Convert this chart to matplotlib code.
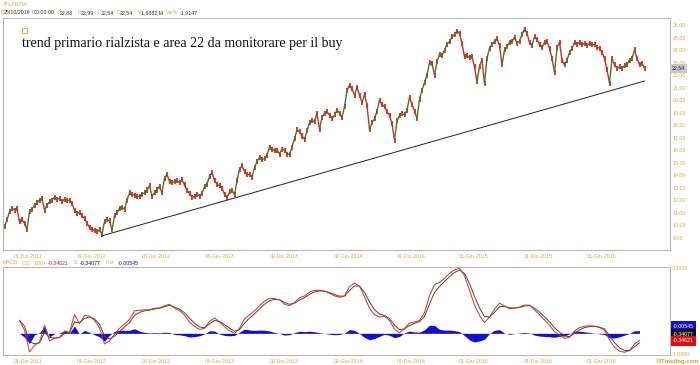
import numpy as np
import matplotlib
matplotlib.use("Agg")
import matplotlib.pyplot as plt
from matplotlib.collections import LineCollection

W, H = 700, 365

SYMBOL = "ATLANTIA"
NOTE = "trend primario rialzista e area 22 da monitorare per il buy"

# weekly closes, autumn 2011 .. 25/10/2016
closes = [
    9.9, 10.44, 11.1, 11.37, 11.23, 11.37, 10.3, 10.44, 10.17, 9.7,
    11.1, 11.3, 11.63, 11.82, 12.03, 12.17, 11.23, 11.63, 11.9, 12.03,
    12.25, 12.1, 12.17, 11.9, 12.1, 12.0, 12.03, 11.77, 11.23, 10.97,
    11.03, 10.76, 10.57, 10.17, 9.85, 9.7, 9.6, 9.5, 9.64, 9.3,
    10.3, 10.44, 10.4, 9.64, 10.76, 11.03, 11.37, 11.45, 11.3, 12.03,
    12.6, 12.5, 12.43, 12.3, 12.35, 12.5, 12.6, 12.83, 13.15, 12.35,
    12.6, 12.83, 13.1, 12.6, 13.77, 14.1, 13.5, 13.42, 13.5, 13.57,
    13.42, 13.63, 13.23, 12.8, 12.57, 12.25, 12.3, 12.5, 12.35, 12.57,
    13.1, 13.3, 13.9, 14.2, 13.6, 13.3, 13.15, 12.97, 12.5, 12.2,
    12.7, 12.78, 12.47, 13.58, 14.48, 14.75, 14.29, 14.1, 14.03, 13.85,
    14.63, 15.09, 15.44, 15.28, 15.33, 15.62, 16.24, 16.08, 15.97, 16.02,
    15.7, 16.08, 16.02, 15.7, 15.68, 16.24, 16.95, 17.62, 17.48, 17.14,
    16.88, 17.57, 18.2, 18.36, 18.28, 18.95, 17.68, 18.63, 18.95, 19.08,
    18.8, 18.5, 18.82, 19.21, 18.95, 18.6, 19.48, 20.8, 21.21, 20.9,
    20.41, 21.0, 20.41, 19.82, 20.46, 19.61, 17.62, 18.22, 18.5, 19.13,
    20.0, 19.67, 19.48, 19.08, 18.77, 18.15, 16.82, 18.35, 18.77, 18.92,
    18.82, 19.21, 20.2, 19.67, 19.13, 18.55, 20.08, 20.8, 21.4, 22.0,
    23.0, 22.95, 22.0, 23.07, 23.66, 23.6, 24.0, 24.46, 24.67, 25.07,
    25.25, 25.52, 25.33, 24.54, 23.47, 23.55, 23.4, 23.47, 22.67, 21.48,
    22.67, 23.2, 21.35, 23.34, 24.14, 24.41, 24.72, 24.94, 24.36, 22.81,
    24.01, 24.28, 24.62, 24.72, 25.0, 24.54, 24.72, 25.25, 25.68, 25.33,
    24.62, 24.36, 25.07, 24.81, 24.46, 24.2, 24.62, 24.67, 24.14, 23.34,
    22.22, 24.2, 24.62, 23.2, 22.81, 23.2, 23.82, 24.14, 24.62, 24.46,
    24.62, 24.41, 24.54, 24.36, 24.54, 24.41, 24.46, 24.22, 24.14, 23.82,
    23.34, 22.41, 21.35, 23.34, 22.81, 22.54, 22.67, 22.54, 22.76, 22.86,
    23.2, 23.34, 24.01, 23.34, 22.81, 22.94, 22.54,
]
last_close = 22.54

# MACD (32, 200) line, one value every two weeks from week 6
macd = [
    0.65, 0.16, -0.93, -0.6, -0.44, 0.4, -0.38, -0.25, -0.2, 0.12,
    0.05, 0.95, 0.49, 0.9, 0.87, 0.65, 0.28, -0.54, -0.38, -0.05,
    0.25, 0.47, 0.7, 1.13, 1.16, 1.18, 1.19, 1.26, 1.28, 1.39,
    1.46, 1.26, 1.14, 0.92, 0.57, 0.34, 0.2, 0.25, 0.6, 0.77,
    0.57, 0.34, 0.13, 0.0, 0.25, 0.72, 0.93, 1.13, 1.39, 1.62,
    1.76, 1.75, 1.68, 1.47, 1.39, 1.55, 1.78, 1.88, 2.07, 2.16,
    2.16, 2.12, 2.01, 1.88, 1.81, 1.88, 2.34, 2.53, 2.37, 1.85,
    1.26, 0.93, 0.82, 0.85, 0.65, 0.2, 0.03, 0.25, 0.51, 0.57,
    0.65, 1.03, 1.88, 2.45, 2.56, 2.76, 3.01, 3.19, 3.27, 2.89,
    2.17, 1.42, 0.9, 0.54, 0.82, 1.21, 1.52, 1.37, 1.24, 1.26,
    1.32, 1.42, 1.42, 1.18, 0.93, 0.67, 0.41, 0.08, -0.08, -0.25,
    -0.2, 0.12, 0.28, 0.36, 0.38, 0.36, 0.29, 0.16, -0.33, -0.7,
    -0.9, -0.95, -0.87, -0.54, -0.35,
]
macd_first_week = 6
macd_step = 2
macd_last, signal_last, hist_last = -0.34621, -0.34077, -0.00545

# hand-drawn trend line: (week, price) at both ends
trend_weeks = [38.8, 256.0]
trend_prices = [9.16, 21.53]

date_ticks = [9.6, 34.8, 60.8, 86.0, 112.0, 137.6, 162.8, 187.6, 213.6, 238.8]
date_labels = ["01-Dic-2011", "01-Giu-2012", "03-Dic-2012", "03-Giu-2013",
               "02-Dic-2013", "02-Giu-2014", "01-Dic-2014", "01-Giu-2015",
               "01-Dic-2015", "01-Giu-2016"]
price_ticks = list(range(9, 27))

ORANGE = "#dca640"
UP, DOWN = "#3d7a2a", "#cc3020"
FRAME = "#b8b8b8"
SANS = "Liberation Sans"


def fx(x):
    return x / W


def fy(y):
    return 1 - y / H


def frame(ax):
    for s in ax.spines.values():
        s.set_color(FRAME)
        s.set_linewidth(0.8)


fig = plt.figure(figsize=(W / 100, H / 100), dpi=100)
xlim = (-0.6, 266.2)

# ---- price panel
ax = fig.add_axes([fx(3), fy(250), fx(667), 232 / H])
c = np.asarray(closes)
wk = np.arange(len(c))
segs = [[(wk[i - 1], c[i - 1]), (wk[i], c[i])] for i in range(1, len(c))]
cols = [UP if c[i] >= c[i - 1] else DOWN for i in range(1, len(c))]
ax.vlines(wk, c - 0.2, c + 0.2, colors=DOWN, linewidth=1.3)
ax.add_collection(LineCollection(segs, colors=cols, linewidths=1.0))
ax.plot(trend_weeks, trend_prices, color="#222222", lw=0.7)
ax.set_xlim(*xlim)
ax.set_ylim(8.04, 26.56)
ax.yaxis.tick_right()
ax.set_yticks(price_ticks)
ax.set_yticklabels([f"{p:.2f}" for p in price_ticks])
ax.set_xticks(date_ticks)
ax.set_xticklabels(date_labels)
ax.tick_params(length=0, labelsize=3.8, labelcolor=ORANGE, pad=2)
ax.tick_params(axis="x", pad=3)
for t in ax.get_xticklabels() + ax.get_yticklabels():
    t.set_fontfamily(SANS)
frame(ax)

ax.text(1.0 + 2 / 667, last_close, f"{last_close:.2f}", transform=ax.get_yaxis_transform(),
        fontsize=3.8, family=SANS, color="#222222", va="center", ha="left",
        bbox=dict(boxstyle="square,pad=0.35", fc="#c8c8c8", ec="none"))

# ---- MACD panel: signal is a short EMA of the MACD line, hist the gap
ax2 = fig.add_axes([fx(3), fy(355), fx(667), 88 / H])
m = np.asarray(macd)
mw = macd_first_week + macd_step * np.arange(len(m))
sig = np.empty_like(m)
sig[0] = m[0]
for k in range(1, len(m)):
    sig[k] = sig[k - 1] + 0.6 * (m[k] - sig[k - 1])
hist = m - sig
ax2.fill_between(mw, 0, hist, color="#1010d0", lw=0)
ax2.plot(mw, sig, color="#6a3a30", lw=0.7)
ax2.plot(mw, m, color="#c0392b", lw=0.7)
ax2.set_xlim(*xlim)
ax2.set_ylim(-1.088, 3.3326)
ax2.set_yticks([])
ax2.set_xticks(date_ticks)
ax2.set_xticklabels(date_labels)
ax2.tick_params(length=0, labelsize=3.8, labelcolor=ORANGE, pad=3)
for t in ax2.get_xticklabels():
    t.set_fontfamily(SANS)
frame(ax2)

# ---- header / annotations
kw = dict(fontsize=3.8, family=SANS, va="center", ha="left")
fig.text(fx(3), fy(4), SYMBOL, color=ORANGE, **kw)
header = [("D", 1, ORANGE), ("25/10/2016", 4, "#333333"), ("T", 31, ORANGE),
          ("00:00:00", 34, "#333333"), ("O", 57, ORANGE), ("22,88", 60, "#333333"),
          ("H", 78, ORANGE), ("22,99", 81, "#333333"), ("L", 98, ORANGE),
          ("22,54", 101, "#333333"), ("C", 117, ORANGE), ("22,54", 120, "#333333"),
          ("V", 138, ORANGE), ("1,6882 M", 141, "#333333"), ("Var%", 166, ORANGE),
          ("-1,9147", 180, "#333333")]
for s, x, col in header:
    fig.text(fx(x), fy(13), s, color=col, **kw)

legend = [("MACD", 3, ORANGE), ("(32 , 200)", 22, ORANGE),
          (f"{macd_last:.5f}".replace(".", ","), 48, "#cc2020"), ("S", 74, ORANGE),
          (f"{signal_last:.5f}".replace(".", ","), 80, "#111111"), ("hist", 106, ORANGE),
          (f"{hist_last:.5f}".replace(".", ","), 118, "#1010c0")]
for s, x, col in legend:
    fig.text(fx(x), fy(263), s, color=col, **kw)

fig.text(fx(672), fy(268), "3.3326", color=ORANGE, **kw)
fig.text(fx(672), fy(355), "-1.0880", color=ORANGE, **kw)
tags = [(hist_last, "#1010d0", 326), (signal_last, "#111111", 334), (macd_last, "#dd1010", 341)]
for v, bg, y in tags:
    fig.text(fx(673), fy(y), f"{v:.5f}", color="white", fontsize=3.8, family=SANS,
             va="center", ha="left",
             bbox=dict(boxstyle="square,pad=0.4", fc=bg, ec="none"))
fig.text(fx(699), fy(361), "\u00a9ITtrading.com", color="#e09a20", fontsize=4.2,
         family=SANS, weight="bold", va="center", ha="right")

fig.text(fx(22), fy(44), NOTE, fontsize=10.1, family="Liberation Serif",
         color="#111111", va="center", ha="left")
fig.patches.append(plt.Rectangle((fx(22), fy(33)), 5 / W, 5 / H, transform=fig.transFigure,
                                 fill=False, ec="#e0a040", lw=0.6))

fig.savefig("out.png", dpi=100)
